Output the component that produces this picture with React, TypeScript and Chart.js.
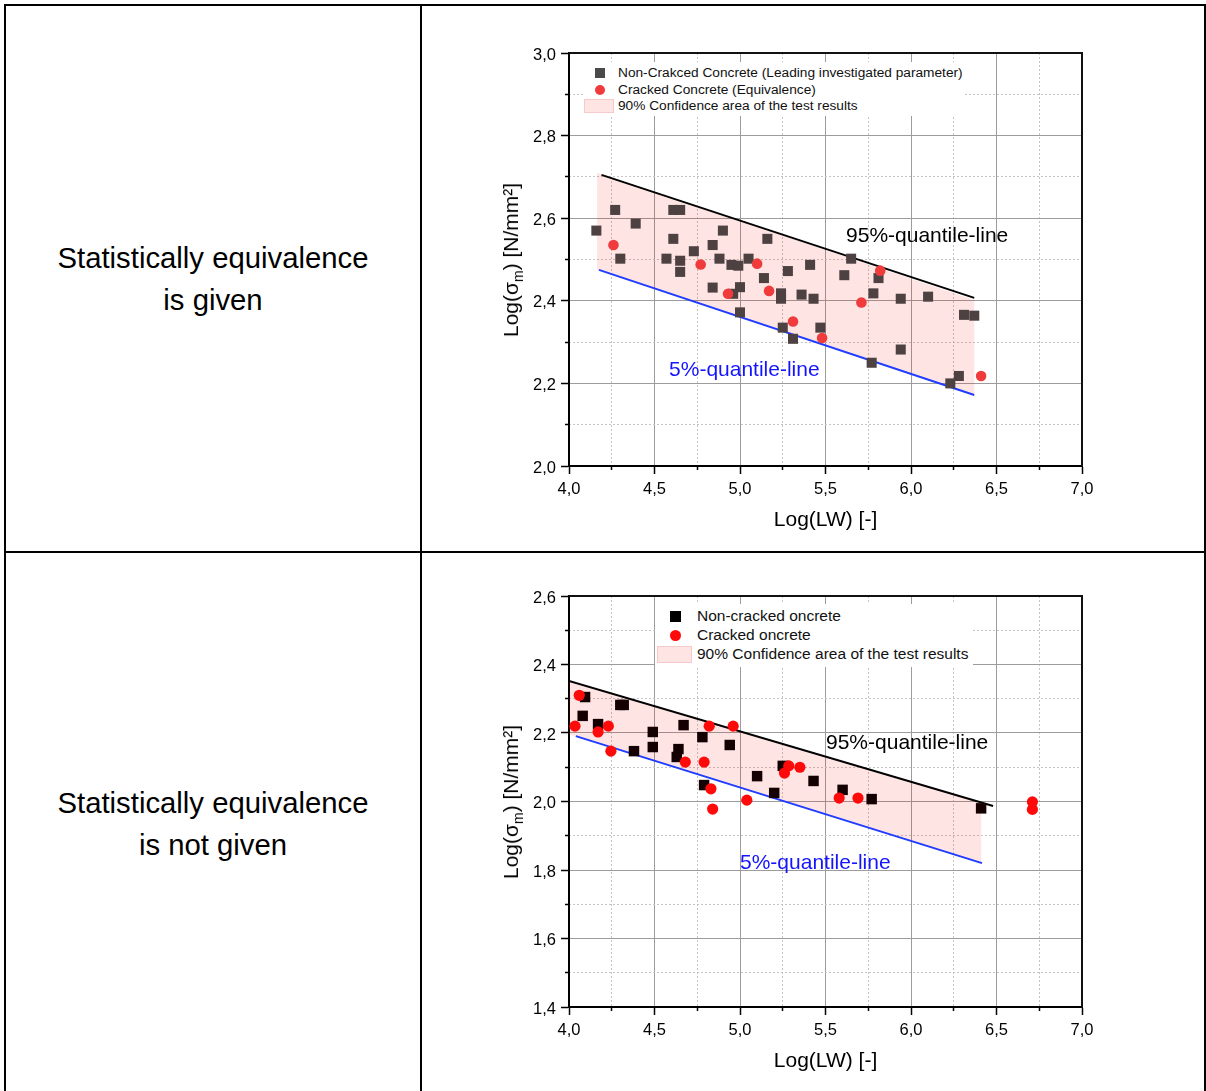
import React, { useEffect, useRef } from 'react';
import { Chart, registerables } from 'chart.js';

Chart.register(...registerables);

// ---------------- DATA ----------------
// Top chart: statistically equivalence is given
const topXTickRange = [4.0, 7.0];
const topYTickRange = [2.0, 3.0];
const topSquareX = [4.16, 4.27, 4.30, 4.39, 4.57, 4.61, 4.61, 4.65, 4.65, 4.65, 4.73, 4.84, 4.84, 4.88, 4.90, 4.95, 4.99, 4.96, 5.00, 5.00, 5.05, 5.14, 5.16, 5.24, 5.24, 5.25, 5.28, 5.31, 5.36, 5.41, 5.43, 5.47, 5.61, 5.65, 5.78, 5.81, 5.94, 5.94, 5.77, 6.10, 6.31, 6.37, 6.28, 6.23];
const topSquareY = [2.570, 2.620, 2.502, 2.587, 2.502, 2.550, 2.620, 2.620, 2.497, 2.470, 2.520, 2.432, 2.535, 2.502, 2.570, 2.487, 2.485, 2.417, 2.433, 2.372, 2.502, 2.455, 2.550, 2.418, 2.405, 2.335, 2.472, 2.308, 2.415, 2.487, 2.405, 2.335, 2.462, 2.502, 2.418, 2.455, 2.405, 2.282, 2.250, 2.410, 2.366, 2.364, 2.218, 2.200];
const topCircleX = [4.26, 4.77, 4.93, 5.10, 5.17, 5.31, 5.48, 5.71, 5.82, 6.41];
const topCircleY = [2.535, 2.488, 2.417, 2.490, 2.424, 2.350, 2.310, 2.396, 2.473, 2.218];
const topConfX = [4.164, 6.37];
const topConfUpper = [2.71, 2.402];
const topConfLower = [2.475, 2.172];
const topQ95X = [4.19, 6.37];
const topQ95Y = [2.705, 2.407];
const topQ5X = [4.175, 6.37];
const topQ5Y = [2.475, 2.172];
const topLegend = [
  'Non-Crakced Concrete (Leading investigated parameter)',
  'Cracked Concrete (Equivalence)',
  '90% Confidence area of the test results',
];

// Bottom chart: statistically equivalence is not given
const botXTickRange = [4.0, 7.0];
const botYTickRange = [1.4, 2.6];
const botSquareX = [4.094, 4.08, 4.17, 4.30, 4.32, 4.38, 4.49, 4.49, 4.64, 4.63, 4.67, 4.78, 4.79, 4.94, 5.10, 5.20, 5.25, 5.43, 5.60, 5.77, 6.41];
const botSquareY = [2.305, 2.250, 2.226, 2.282, 2.282, 2.147, 2.203, 2.159, 2.153, 2.130, 2.223, 2.188, 2.048, 2.165, 2.074, 2.025, 2.104, 2.060, 2.034, 2.007, 1.980];
const botCircleX = [4.06, 4.035, 4.17, 4.23, 4.245, 4.68, 4.79, 4.82, 4.83, 4.84, 4.96, 5.04, 5.26, 5.285, 5.35, 5.58, 5.69, 6.71, 6.71];
const botCircleY = [2.310, 2.220, 2.203, 2.220, 2.147, 2.115, 2.115, 2.220, 2.037, 1.978, 2.220, 2.004, 2.083, 2.104, 2.100, 2.010, 2.010, 1.999, 1.977];
const botConfX = [4.0, 6.41];
const botConfUpper = [2.352, 1.998];
const botConfLower = [2.196, 1.821];
const botQ95X = [4.0, 6.48];
const botQ95Y = [2.352, 1.987];
const botQ5X = [4.04, 6.415];
const botQ5Y = [2.191, 1.820];
const botLegend = [
  'Non-cracked oncrete',
  'Cracked oncrete',
  '90% Confidence area of the test results',
];

const rowLabels = [
  ['Statistically equivalence', 'is given'],
  ['Statistically equivalence', 'is not given'],
];
const quantileLabels = ['95%-quantile-line', '5%-quantile-line'];
const xTitle = 'Log(LW) [-]';

// ---------------- HELPERS ----------------
const FONT = '"Liberation Sans", Arial, Helvetica, sans-serif';
const PINK = 'rgba(255, 0, 0, 0.105)';
const BLUE = '#1f3cff';

const pts = (xs: number[], ys: number[]) => xs.map((x, i) => ({ x, y: ys[i] }));
const fmt = (v: number | string) => Number(v).toFixed(1).replace('.', ',');
const isMult = (v: number, step: number) => Math.abs(v / step - Math.round(v / step)) < 1e-6;

interface Spec {
  xr: number[];
  yr: number[];
  squares: { x: number; y: number }[];
  circles: { x: number; y: number }[];
  conf: { x: number; y: number }[];
  q95: { x: number; y: number }[];
  q5: { x: number; y: number }[];
  squareColor: string;
  circleColor: string;
  squareR: number;
  circleR: number;
  padTop: number;
  xHeight: number;
  titlePad: number;
  notes: { text: string; x: number; y: number; color: string }[];
}

const framePlugin = {
  id: 'frameNotes',
  afterDatasetsDraw(chart: any, _args: any, opts: any) {
    const { ctx, chartArea: a, scales } = chart;
    ctx.save();
    ctx.strokeStyle = '#111';
    ctx.lineWidth = 2;
    ctx.beginPath();
    ctx.moveTo(a.left, a.top);
    ctx.lineTo(a.right, a.top);
    ctx.lineTo(a.right, a.bottom);
    ctx.stroke();
    ctx.font = '21px ' + FONT;
    ctx.textAlign = 'left';
    ctx.textBaseline = 'middle';
    for (const n of opts.notes || []) {
      ctx.fillStyle = n.color;
      ctx.fillText(n.text, scales.x.getPixelForValue(n.x), scales.y.getPixelForValue(n.y));
    }
    ctx.restore();
  },
};

function buildConfig(s: Spec): any {
  const tickFont = { family: FONT, size: 16.5 };
  return {
    type: 'scatter',
    data: {
      datasets: [
        {
          type: 'line',
          data: s.conf,
          fill: 'shape',
          backgroundColor: PINK,
          borderWidth: 0,
          borderColor: 'rgba(0,0,0,0)',
          pointRadius: 0,
          order: 10,
        },
        {
          type: 'line',
          data: s.q95,
          borderColor: '#000',
          borderWidth: 2,
          pointRadius: 0,
          fill: false,
          order: 5,
        },
        {
          type: 'line',
          data: s.q5,
          borderColor: BLUE,
          borderWidth: 2,
          pointRadius: 0,
          fill: false,
          order: 5,
        },
        {
          data: s.squares,
          pointStyle: 'rect',
          pointRadius: s.squareR,
          backgroundColor: s.squareColor,
          borderWidth: 0,
          order: 2,
        },
        {
          data: s.circles,
          pointStyle: 'circle',
          pointRadius: s.circleR,
          backgroundColor: s.circleColor,
          borderWidth: 0,
          order: 1,
        },
      ],
    },
    options: {
      responsive: false,
      animation: false,
      devicePixelRatio: 1,
      layout: { padding: { left: 0, right: 108, top: s.padTop, bottom: 0 } },
      plugins: {
        legend: { display: false },
        tooltip: { enabled: false },
        frameNotes: { notes: s.notes },
      },
      scales: {
        x: {
          type: 'linear',
          position: 'bottom',
          weight: 1,
          min: s.xr[0],
          max: s.xr[1],
          ticks: { stepSize: 0.5, callback: fmt, font: tickFont, color: '#000', padding: 6, maxRotation: 0, autoSkip: false },
          grid: { color: '#9c9c9c', lineWidth: 1, tickLength: 8, tickColor: '#000', tickWidth: 1.5 },
          border: { display: true, color: '#000', width: 2 },
          title: { display: true, text: xTitle, font: { family: FONT, size: 21 }, color: '#000', padding: { top: 0, bottom: s.titlePad } },
          afterFit: (sc: any) => { sc.height = s.xHeight; },
        },
        xMinor: {
          type: 'linear',
          position: 'bottom',
          weight: 0,
          min: s.xr[0],
          max: s.xr[1],
          ticks: { stepSize: 0.25, display: false, autoSkip: false },
          grid: {
            color: (c: any) => (isMult(c.tick.value, 0.5) ? 'rgba(0,0,0,0)' : '#c4c4c4'),
            tickColor: (c: any) => (isMult(c.tick.value, 0.5) ? 'rgba(0,0,0,0)' : '#000'),
            tickLength: 4,
            tickWidth: 1.5,
            tickBorderDash: [],
          },
          border: { display: false, dash: [2, 2] },
          afterFit: (sc: any) => { sc.height = 0; },
        },
        y: {
          type: 'linear',
          position: 'left',
          weight: 1,
          min: s.yr[0],
          max: s.yr[1],
          ticks: { stepSize: 0.2, callback: fmt, font: tickFont, color: '#000', padding: 5, labelOffset: 2, autoSkip: false },
          grid: { color: '#9c9c9c', lineWidth: 1, tickLength: 8, tickColor: '#000', tickWidth: 1.5 },
          border: { display: true, color: '#000', width: 2 },
          afterFit: (sc: any) => { sc.width = 139; },
        },
        yMinor: {
          type: 'linear',
          position: 'left',
          weight: 0,
          min: s.yr[0],
          max: s.yr[1],
          ticks: { stepSize: 0.1, display: false, autoSkip: false },
          grid: {
            color: (c: any) => (isMult(c.tick.value, 0.2) ? 'rgba(0,0,0,0)' : '#c4c4c4'),
            tickColor: (c: any) => (isMult(c.tick.value, 0.2) ? 'rgba(0,0,0,0)' : '#000'),
            tickLength: 4,
            tickWidth: 1.5,
            tickBorderDash: [],
          },
          border: { display: false, dash: [2, 2] },
          afterFit: (sc: any) => { sc.width = 0; },
        },
      },
    },
    plugins: [framePlugin],
  };
}

const topSpec: Spec = {
  xr: topXTickRange,
  yr: topYTickRange,
  squares: pts(topSquareX, topSquareY),
  circles: pts(topCircleX, topCircleY),
  conf: [
    { x: topConfX[0], y: topConfUpper[0] },
    { x: topConfX[1], y: topConfUpper[1] },
    { x: topConfX[1], y: topConfLower[1] },
    { x: topConfX[0], y: topConfLower[0] },
  ],
  q95: pts(topQ95X, topQ95Y),
  q5: pts(topQ5X, topQ5Y),
  squareColor: '#4d4141',
  circleColor: '#ef3b3b',
  squareR: 7.1,
  circleR: 5.3,
  padTop: 41,
  xHeight: 76,
  titlePad: 9,
  notes: [
    { text: quantileLabels[0], x: 5.62, y: 2.557, color: '#000' },
    { text: quantileLabels[1], x: 4.585, y: 2.232, color: '#1414ff' },
  ],
};

const botSpec: Spec = {
  xr: botXTickRange,
  yr: botYTickRange,
  squares: pts(botSquareX, botSquareY),
  circles: pts(botCircleX, botCircleY),
  conf: [
    { x: botConfX[0], y: botConfUpper[0] },
    { x: botConfX[1], y: botConfUpper[1] },
    { x: botConfX[1], y: botConfLower[1] },
    { x: botConfX[0], y: botConfLower[0] },
  ],
  q95: pts(botQ95X, botQ95Y),
  q5: pts(botQ5X, botQ5Y),
  squareColor: '#140000',
  circleColor: '#ff0a0a',
  squareR: 7.4,
  circleR: 5.6,
  padTop: 36,
  xHeight: 78,
  titlePad: 11,
  notes: [
    { text: quantileLabels[0], x: 5.503, y: 2.171, color: '#000' },
    { text: quantileLabels[1], x: 5.0, y: 1.82, color: '#1414ff' },
  ],
};

function ChartCanvas({ spec, left, top, width, height }: { spec: Spec; left: number; top: number; width: number; height: number }) {
  const ref = useRef<HTMLCanvasElement | null>(null);
  useEffect(() => {
    if (!ref.current) return;
    const chart = new Chart(ref.current, buildConfig(spec));
    return () => chart.destroy();
  }, [spec]);
  return (
    <canvas
      ref={ref}
      width={width}
      height={height}
      style={{ position: 'absolute', left, top, width, height }}
    />
  );
}

function YTitle({ cx, cy }: { cx: number; cy: number }) {
  return (
    <div
      style={{
        position: 'absolute',
        left: cx,
        top: cy,
        transform: 'translate(-50%, -50%) rotate(-90deg)',
        fontSize: 21,
        lineHeight: '24px',
        whiteSpace: 'nowrap',
        color: '#000',
      }}
    >
      Log(σ<span style={{ fontSize: 14, position: 'relative', top: 5 }}>m</span>) [N/mm²]
    </div>
  );
}

function Legend({
  box,
  marker,
  textX,
  rows,
  labels,
  fontSize,
  squareColor,
  circleColor,
  markerSize,
  rect,
}: {
  box: number[];
  marker: number;
  textX: number;
  rows: number[];
  labels: string[];
  fontSize: number;
  squareColor: string;
  circleColor: string;
  markerSize: number;
  rect: number[];
}) {
  const half = markerSize / 2;
  return (
    <>
      <div style={{ position: 'absolute', left: box[0], top: box[1], width: box[2], height: box[3], background: '#fff' }} />
      <div style={{ position: 'absolute', left: marker - half, top: rows[0] - half, width: markerSize, height: markerSize, background: squareColor }} />
      <div style={{ position: 'absolute', left: marker - half, top: rows[1] - half, width: markerSize, height: markerSize, borderRadius: '50%', background: circleColor }} />
      <div
        style={{
          position: 'absolute',
          left: rect[0],
          top: rect[1],
          width: rect[2],
          height: rect[3],
          background: 'rgb(255,228,228)',
          boxSizing: 'border-box',
          border: '1px solid rgba(235,170,170,0.45)',
        }}
      />
      {labels.map((t, i) => (
        <div
          key={i}
          style={{
            position: 'absolute',
            left: textX,
            top: rows[i] - 10,
            height: 20,
            lineHeight: '20px',
            fontSize,
            whiteSpace: 'nowrap',
            color: '#111',
          }}
        >
          {t}
        </div>
      ))}
    </>
  );
}

export default function App() {
  return (
    <div
      style={{
        position: 'fixed',
        left: 0,
        top: 0,
        width: 1206,
        height: 1091,
        overflow: 'hidden',
        background: '#fff',
        fontFamily: FONT,
      }}
    >
      {/* table lines */}
      <div style={{ position: 'absolute', left: 4, top: 4, width: 1202, height: 1100, border: '2px solid #000', boxSizing: 'border-box' }} />
      <div style={{ position: 'absolute', left: 420, top: 4, width: 2, height: 1100, background: '#000' }} />
      <div style={{ position: 'absolute', left: 4, top: 551, width: 1202, height: 2, background: '#000' }} />

      {/* row labels */}
      {[237, 782].map((t, r) => (
        <div
          key={r}
          style={{ position: 'absolute', left: 6, width: 414, top: t, textAlign: 'center', fontSize: 29.3, lineHeight: '42px', color: '#000' }}
        >
          {rowLabels[r][0]}
          <br />
          {rowLabels[r][1]}
        </div>
      ))}

      {/* charts */}
      <ChartCanvas spec={topSpec} left={430} top={12} width={760} height={530} />
      <ChartCanvas spec={botSpec} left={430} top={560} width={760} height={525} />

      <YTitle cx={512} cy={259.5} />
      <YTitle cx={512} cy={801.5} />

      <Legend
        box={[583, 62, 382, 54]}
        marker={600}
        textX={618}
        rows={[73, 90, 106]}
        labels={topLegend}
        fontSize={13.7}
        squareColor="#4a4a4a"
        circleColor="#ef3b3b"
        markerSize={10}
        rect={[584, 99, 30, 14]}
      />
      <Legend
        box={[655, 604, 318, 63]}
        marker={675}
        textX={697}
        rows={[616, 635, 654]}
        labels={botLegend}
        fontSize={15.5}
        squareColor="#000"
        circleColor="#ff0a0a"
        markerSize={11}
        rect={[657, 646, 35, 17]}
      />
    </div>
  );
}
